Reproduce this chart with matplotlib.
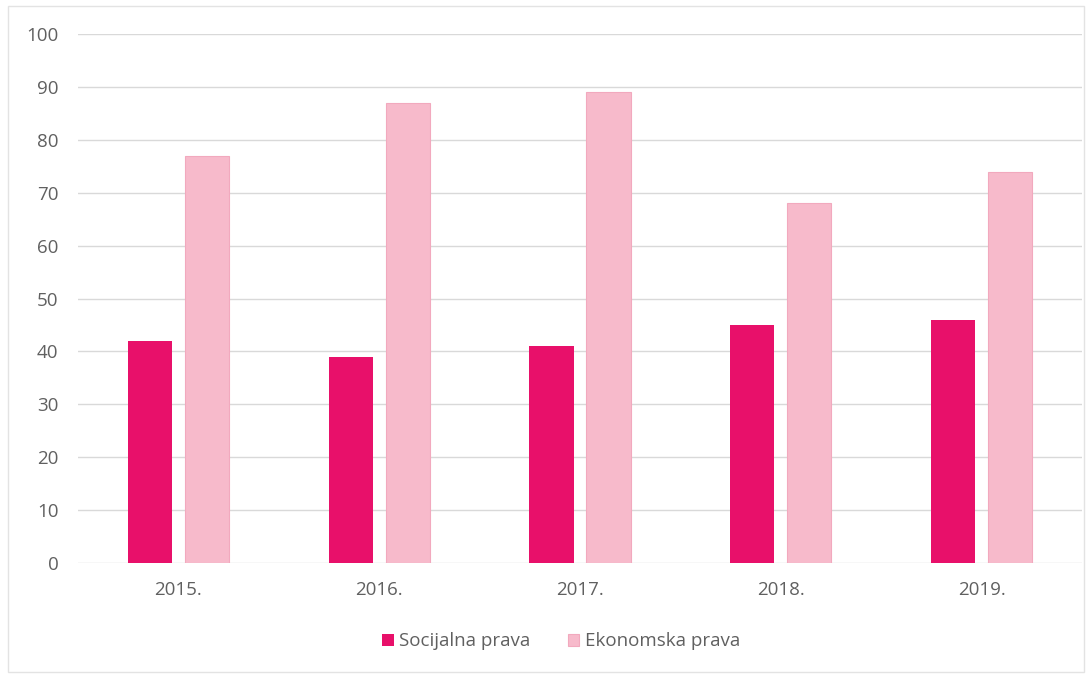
import numpy as np
import matplotlib.pyplot as plt
from matplotlib.patches import Rectangle

# Podaci
godine = ['2015.', '2016.', '2017.', '2018.', '2019.']
socijalna = [42, 39, 41, 45, 46]
ekonomska = [77, 87, 89, 68, 74]

boja_soc = '#E8106A'
boja_eko = '#F7BACB'
siva = '#606060'

plt.rcParams['font.family'] = ['Open Sans', 'DejaVu Sans']

fig = plt.figure(figsize=(10.92, 6.75), dpi=100)
ax = fig.add_axes([0.0714, 0.1659, 0.9194, 0.7837])

x = np.arange(len(godine))
sirina = 0.22
ax.bar(x - 0.142, socijalna, sirina, color=boja_soc, label='Socijalna prava', zorder=3)
ax.bar(x + 0.142, ekonomska, sirina, color=boja_eko, edgecolor='#F2A9BE', linewidth=0.8,
       label='Ekonomska prava', zorder=3)

ax.set_xlim(-0.5, len(godine) - 0.5)
ax.set_ylim(0, 100)
ax.set_yticks(range(0, 101, 10))
ax.set_xticks(x)
ax.set_xticklabels(godine)
ax.tick_params(axis='both', length=0, labelsize=13.5, colors=siva)
ax.tick_params(axis='y', pad=14)
ax.tick_params(axis='x', pad=13)
ax.grid(axis='y', color='#D9D9D9', linewidth=1, zorder=0)
for s in ax.spines.values():
    s.set_visible(False)

leg = fig.legend(loc='center', bbox_to_anchor=(0.514, 0.05), ncol=2, frameon=False,
                 fontsize=13.5, handlelength=0.6, handleheight=0.6, handletextpad=0.3,
                 columnspacing=2.0)
for t in leg.get_texts():
    t.set_color(siva)

# okvir
fig.patches.append(Rectangle((0.007, 0.004), 0.986, 0.987, transform=fig.transFigure,
                             fill=False, edgecolor='#E3E3E3', linewidth=1))

fig.savefig('out.png', dpi=100)
